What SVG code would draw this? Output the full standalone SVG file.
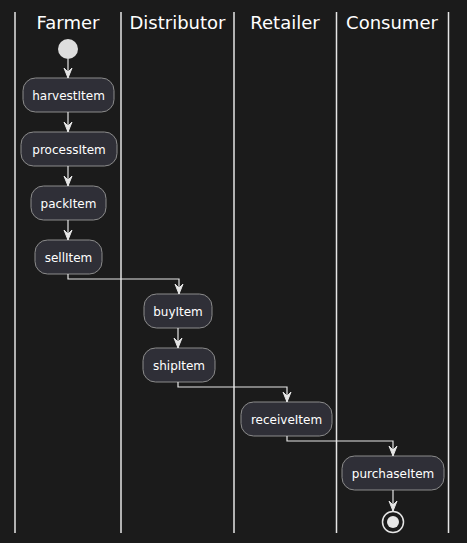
<svg xmlns="http://www.w3.org/2000/svg" width="467" height="543" viewBox="0 0 467 543">
<defs>
<style>
.lane{stroke:#E6E6E6;stroke-width:1.5;fill:none}
.title{font-family:"DejaVu Sans",sans-serif;font-size:18px;fill:#FFFFFF;text-anchor:middle}
.act rect{fill:#2F2F37;stroke:#8C8C8C;stroke-width:1}
.act text{font-family:"DejaVu Sans",sans-serif;font-size:12px;fill:#FFFFFF;text-anchor:middle}
.conn path{stroke:#E6E6E6;stroke-width:1.2;fill:none}
.conn polygon{fill:#E6E6E6;stroke:#E6E6E6;stroke-width:1}
</style>
</defs>
<rect width="467" height="543" fill="#1B1B1B"/>
<g id="lanes">
<line class="lane" x1="15" y1="12" x2="15" y2="533"/>
<line class="lane" x1="121" y1="12" x2="121" y2="533"/>
<line class="lane" x1="234" y1="12" x2="234" y2="533"/>
<line class="lane" x1="336.5" y1="12" x2="336.5" y2="533"/>
<line class="lane" x1="448.5" y1="12" x2="448.5" y2="533"/>
<text class="title" x="68" y="29">Farmer</text>
<text class="title" x="177.5" y="29">Distributor</text>
<text class="title" x="285" y="29">Retailer</text>
<text class="title" x="392" y="29">Consumer</text>
</g>
<g id="start"><circle cx="68" cy="49" r="10" fill="#DDDDDD"/></g>
<g id="harvestItem" class="act"><rect x="23" y="78" width="91" height="34" rx="12.5"/><text x="68.5" y="99.5">harvestItem</text></g>
<g id="processItem" class="act"><rect x="21" y="132" width="96" height="34" rx="12.5"/><text x="69" y="153.5">processItem</text></g>
<g id="packItem" class="act"><rect x="31" y="186" width="75" height="34" rx="12.5"/><text x="68.5" y="207.5">packItem</text></g>
<g id="sellItem" class="act"><rect x="35" y="240" width="67" height="34" rx="12.5"/><text x="68.5" y="261.5">sellItem</text></g>
<g id="buyItem" class="act"><rect x="144" y="294" width="68" height="34" rx="12.5"/><text x="178" y="315.5">buyItem</text></g>
<g id="shipItem" class="act"><rect x="143" y="348" width="72" height="34" rx="12.5"/><text x="179" y="369.5">shipItem</text></g>
<g id="receiveItem" class="act"><rect x="241" y="402" width="91" height="34" rx="12.5"/><text x="286.5" y="423.5">receiveItem</text></g>
<g id="purchaseItem" class="act"><rect x="342" y="456" width="102" height="34" rx="12.5"/><text x="393" y="477.5">purchaseItem</text></g>
<g id="end"><circle cx="393" cy="522" r="10.5" fill="none" stroke="#E6E6E6" stroke-width="1.5"/><circle cx="393" cy="522" r="6" fill="#E6E6E6"/></g>
<g id="connectors" class="conn">
<path d="M68,59 V78"/><polygon points="64,68 68,78 72,68 68,72"/>
<path d="M68,112 V132"/><polygon points="64,122 68,132 72,122 68,126"/>
<path d="M68,166 V186"/><polygon points="64,176 68,186 72,176 68,180"/>
<path d="M68,220 V240"/><polygon points="64,230 68,240 72,230 68,234"/>
<path d="M68,274 V279 H179 V294"/><polygon points="175,284 179,294 183,284 179,288"/>
<path d="M178,328 V348"/><polygon points="174,338 178,348 182,338 178,342"/>
<path d="M178,382 V387 H287 V402"/><polygon points="283,392 287,402 291,392 287,396"/>
<path d="M287,436 V441 H393 V456"/><polygon points="389,446 393,456 397,446 393,450"/>
<path d="M393,490 V511"/><polygon points="389,501 393,511 397,501 393,505"/>
</g>
</svg>
